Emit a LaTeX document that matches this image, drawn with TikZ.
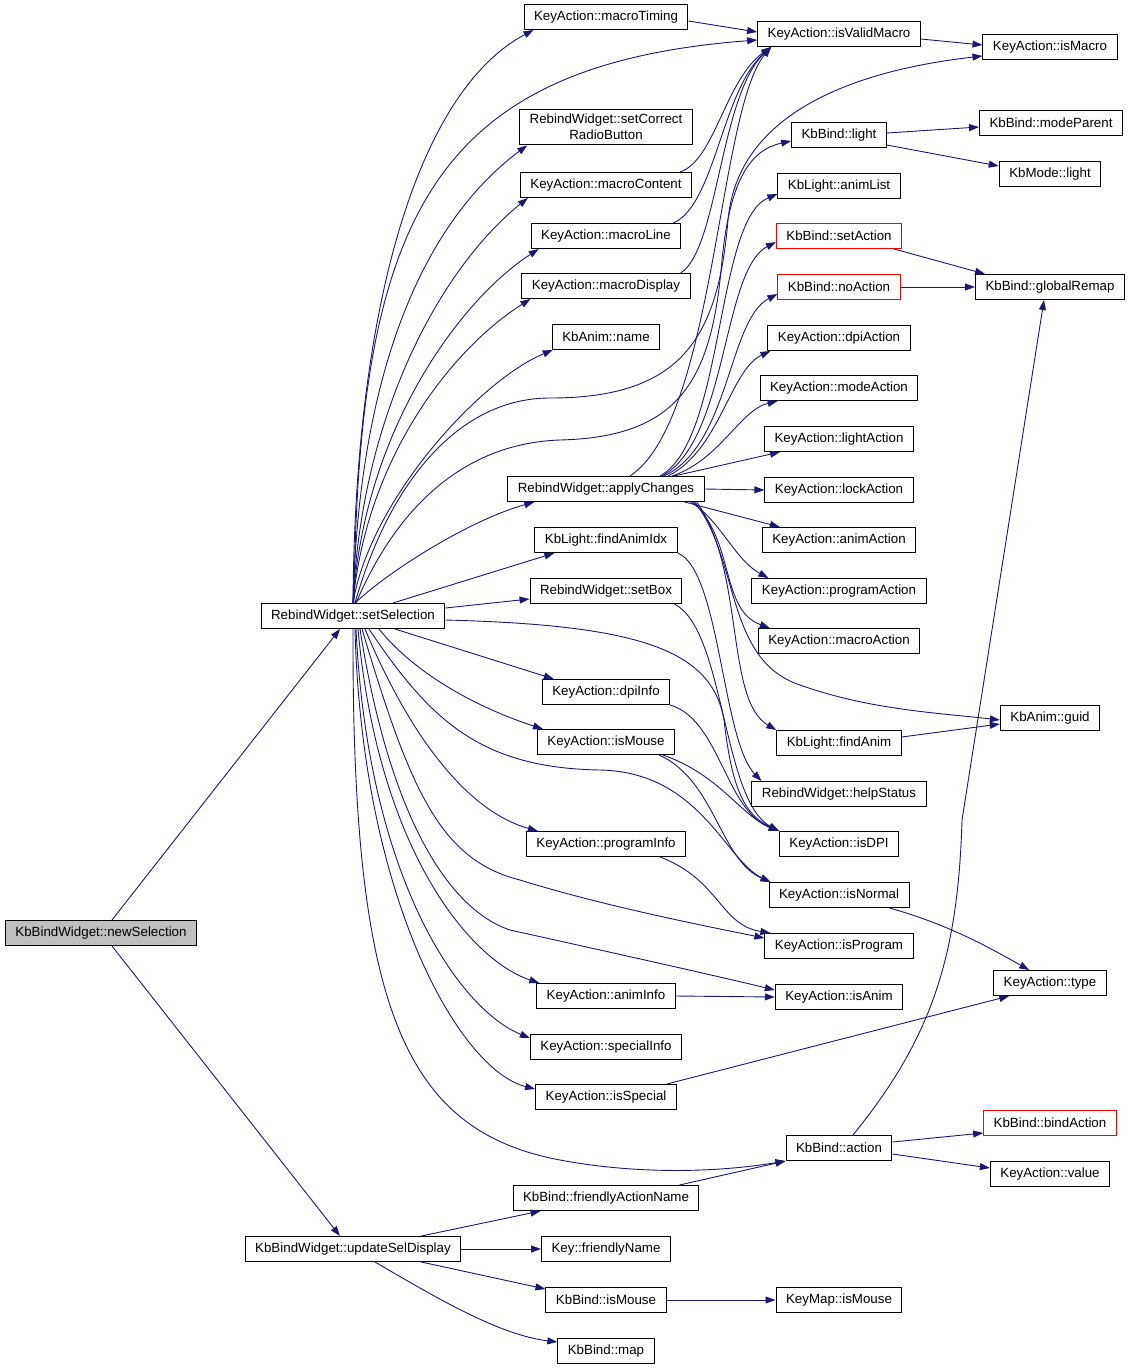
\documentclass[tikz,border=0pt]{standalone}
\usepackage{fontspec}
\setmainfont{Liberation Sans}
\usetikzlibrary{arrows.meta}
\definecolor{edgeblue}{RGB}{25,25,112}
\begin{document}
\begin{tikzpicture}[x=1pt,y=-1pt,line join=round,
	font=\fontsize{13.33}{16}\selectfont,
	fn/.style={draw=black,line width=1pt,rectangle,fill=white,minimum height=25pt,inner xsep=10pt,inner ysep=5pt,align=center},
	hot/.style={fn,draw=red},
	call/.style={draw=edgeblue,line width=0.9pt,-{Triangle[length=10pt,width=7pt]},edgeblue}]
	\useasboundingbox (0,0) rectangle (1131,1371);
	
	% left columns
	\node[fn,fill=black!25] (nsel) at (101,933) {KbBindWidget::newSelection};
	\node[fn] (ssel) at (353,616) {RebindWidget::setSelection};
	\node[fn] (usd) at (353,1249) {KbBindWidget::updateSelDisplay};
	
	\node[fn] (mtim) at (606,17) {KeyAction::macroTiming};
	\node[fn] (scrb) at (606,127) {RebindWidget::setCorrect\\RadioButton};
	\node[fn] (mcon) at (606,185) {KeyAction::macroContent};
	\node[fn] (mlin) at (606,236) {KeyAction::macroLine};
	\node[fn] (mdis) at (606,286) {KeyAction::macroDisplay};
	\node[fn] (aname) at (606,337) {KbAnim::name};
	\node[fn] (apch) at (606,489) {RebindWidget::applyChanges};
	\node[fn] (fai) at (606,540) {KbLight::findAnimIdx};
	\node[fn] (sbox) at (606,591) {RebindWidget::setBox};
	\node[fn] (dinf) at (606,692) {KeyAction::dpiInfo};
	\node[fn] (kmou) at (606,742) {KeyAction::isMouse};
	\node[fn] (pinf) at (606,844) {KeyAction::programInfo};
	\node[fn] (ainf) at (606,996) {KeyAction::animInfo};
	\node[fn] (sinf) at (606,1047) {KeyAction::specialInfo};
	\node[fn] (ispc) at (606,1097) {KeyAction::isSpecial};
	\node[fn] (fan) at (606,1198) {KbBind::friendlyActionName};
	\node[fn] (kfn) at (606,1249) {Key::friendlyName};
	\node[fn] (bmou) at (606,1300) {KbBind::isMouse};
	\node[fn] (bmap) at (606,1351) {KbBind::map};
	
	% third column
	\node[fn] (ivm) at (839,34) {KeyAction::isValidMacro};
	\node[fn] (blig) at (839,135) {KbBind::light};
	\node[fn] (alist) at (839,186) {KbLight::animList};
	\node[hot] (sact) at (839,236) {KbBind::setAction};
	\node[hot] (nact) at (839,287) {KbBind::noAction};
	\node[fn] (dact) at (839,338) {KeyAction::dpiAction};
	\node[fn] (mact) at (839,388) {KeyAction::modeAction};
	\node[fn] (lact) at (839,439) {KeyAction::lightAction};
	\node[fn] (lkact) at (839,490) {KeyAction::lockAction};
	\node[fn] (aact) at (839,540) {KeyAction::animAction};
	\node[fn] (pact) at (839,591) {KeyAction::programAction};
	\node[fn] (macact) at (839,641) {KeyAction::macroAction};
	\node[fn] (fanim) at (839,743) {KbLight::findAnim};
	\node[fn] (hst) at (839,794) {RebindWidget::helpStatus};
	\node[fn] (isdpi) at (839,844) {KeyAction::isDPI};
	\node[fn] (isnor) at (839,895) {KeyAction::isNormal};
	\node[fn] (isprg) at (839,946) {KeyAction::isProgram};
	\node[fn] (isanm) at (839,997) {KeyAction::isAnim};
	\node[fn] (bact) at (839,1148) {KbBind::action};
	\node[fn] (mapmou) at (839,1300) {KeyMap::isMouse};
	
	% right column
	\node[fn] (ismac) at (1050,47) {KeyAction::isMacro};
	\node[fn] (mpar) at (1051,123) {KbBind::modeParent};
	\node[fn] (mlight) at (1050,174) {KbMode::light};
	\node[fn] (grem) at (1050,287) {KbBind::globalRemap};
	\node[fn] (guid) at (1050,718) {KbAnim::guid};
	\node[fn] (atype) at (1050,983) {KeyAction::type};
	\node[hot] (bind) at (1050,1123) {KbBind::bindAction};
	\node[fn] (aval) at (1050,1174) {KeyAction::value};
	
	\draw[call] ([xshift=11pt]nsel.north) -- ([xshift=-13pt]ssel.south);
	\draw[call] ([xshift=11pt]nsel.south) -- ([xshift=-13pt]usd.north);
	
	% setSelection, upwards
	\draw[call] (ssel.north) .. controls (355,300) and (420,90) .. ([xshift=10pt]mtim.south west);
	\draw[call] ([xshift=1pt]ssel.north) .. controls (358,220) and (430,65) .. ([yshift=-6pt]ivm.west);
	\draw[call] (ssel.north) .. controls (360,340) and (440,210) .. ([xshift=8pt]scrb.south west);
	\draw[call] (ssel.north) .. controls (362,400) and (450,260) .. ([xshift=8pt]mcon.south west);
	\draw[call] (ssel.north) .. controls (364,430) and (460,300) .. ([xshift=8pt]mlin.south west);
	\draw[call] (ssel.north) .. controls (366,460) and (450,350) .. ([xshift=9pt]mdis.south west);
	\draw[call] (ssel.north) .. controls (370,500) and (480,380) .. ([xshift=1pt]aname.south west);
	\draw[call] ([xshift=2pt]ssel.north) .. controls (390,480) and (460,398) .. (550,398)
		.. controls (680,398) and (718,340) .. (728,220) .. controls (738,110) and (860,70) .. ([yshift=-9pt]ismac.west);
	\draw[call] ([xshift=3pt]ssel.north) .. controls (400,500) and (470,443) .. (560,440)
		.. controls (680,437) and (712,380) .. (722,260) .. controls (730,180) and (750,150) .. ([yshift=-6pt]blig.west);
	\draw[call] ([xshift=2pt]ssel.north) .. controls (390,570) and (470,520) .. ([xshift=27pt]apch.south west);
	\draw[call] ([xshift=40pt]ssel.north) -- ([xshift=20pt]fai.south west);
	\draw[call] ([yshift=8pt]ssel.east) -- ([yshift=-8pt]sbox.west);
	
	% setSelection, downwards
	\draw[call] ([yshift=-4pt]ssel.east) .. controls (640,625) and (712,650) .. (724,720)
		.. controls (732,790) and (745,815) .. (isdpi.north west);
	\draw[call] ([xshift=42pt]ssel.south) -- ([xshift=12pt]dinf.north west);
	\draw[call] ([xshift=26pt]ssel.south) .. controls (420,680) and (490,712) .. ([xshift=6pt]kmou.north west);
	\draw[call] ([xshift=16pt]ssel.south) .. controls (430,720) and (480,768) .. (600,770)
		.. controls (700,772) and (725,860) .. ([xshift=2pt]isnor.north west);
	\draw[call] ([xshift=12pt]ssel.south) .. controls (420,760) and (480,815) .. ([xshift=12pt]pinf.north west);
	\draw[call] ([xshift=9pt]ssel.south) .. controls (410,790) and (440,860) .. (520,880)
		.. controls (600,905) and (700,925) .. ([yshift=8pt]isprg.west);
	\draw[call] ([xshift=7pt]ssel.south) .. controls (390,820) and (450,910) .. (510,930)
		.. controls (600,950) and (700,972) .. ([yshift=7pt]isanm.west);
	\draw[call] ([xshift=5pt]ssel.south) .. controls (378,850) and (470,960) .. ([xshift=3pt]ainf.north west);
	\draw[call] ([xshift=3pt]ssel.south) .. controls (368,880) and (460,1010) .. ([yshift=-4pt]sinf.north west);
	\draw[call] ([xshift=2pt]ssel.south) .. controls (362,900) and (460,1070) .. ([yshift=-5pt]ispc.north west);
	\draw[call] (ssel.south) .. controls (352,1000) and (400,1130) .. (560,1160)
		.. controls (640,1175) and (720,1172) .. (bact.south west);
	
	% macro helpers
	\draw[call] ([yshift=-4pt]mtim.east) -- ([yshift=2pt]ivm.west);
	\draw[call] ([xshift=-12pt]mcon.north east) .. controls (715,160) and (725,80) .. ([xshift=14pt]ivm.south west);
	\draw[call] ([xshift=-8pt]mlin.north east) .. controls (715,205) and (722,90) .. ([xshift=14pt]ivm.south west);
	\draw[call] ([xshift=-10pt]mdis.north east) .. controls (718,250) and (720,95) .. ([xshift=14pt]ivm.south west);
	\draw[call] ([yshift=-5pt]ivm.east) -- ([yshift=2pt]ismac.west);
	
	% applyChanges
	\draw[call] ([xshift=24pt]apch.north) .. controls (715,420) and (718,110) .. ([xshift=14pt]ivm.south west);
	\draw[call] ([xshift=54pt]apch.north) .. controls (725,440) and (715,220) .. ([yshift=-8pt]alist.west);
	\draw[call] ([xshift=56pt]apch.north) .. controls (728,440) and (722,270) .. ([yshift=-6pt]sact.west);
	\draw[call] ([xshift=58pt]apch.north) .. controls (730,445) and (728,320) .. ([yshift=-7pt]nact.west);
	\draw[call] ([xshift=62pt]apch.north) .. controls (720,450) and (730,370) .. ([xshift=3pt]dact.south west);
	\draw[call] ([xshift=66pt]apch.north) .. controls (720,460) and (740,410) .. ([xshift=18pt]mact.south west);
	\draw[call] ([xshift=68pt]apch.north) -- ([xshift=16pt]lact.south west);
	\draw[call] (apch.east) -- (lkact.west);
	\draw[call] ([xshift=-20pt]apch.south east) -- ([xshift=18pt]aact.north west);
	\draw[call] ([xshift=-14pt]apch.south east) .. controls (720,520) and (735,560) .. ([xshift=17pt]pact.north west);
	\draw[call] ([xshift=-12pt]apch.south east) .. controls (735,540) and (720,610) .. ([xshift=12pt]macact.north west);
	\draw[call] ([xshift=-10pt]apch.south east) .. controls (740,560) and (725,660) .. (800,685)
		.. controls (870,710) and (940,713) .. ([yshift=-2pt]guid.west);
	\draw[call] ([xshift=-8pt]apch.south east) .. controls (745,570) and (725,700) .. (fanim.north west);
	
	% second level
	\draw[call] ([yshift=2pt]blig.east) -- ([yshift=-4pt]mpar.west);
	\draw[call] ([yshift=-10pt]blig.east) -- ([yshift=8pt]mlight.west);
	\draw[call] ([xshift=-8pt]sact.south east) -- ([xshift=10pt]grem.north west);
	\draw[call] (nact.east) -- (grem.west);
	\draw[call] (fai.south east) .. controls (720,570) and (722,740) .. ([xshift=10pt]hst.north west);
	\draw[call] ([xshift=-8pt]sbox.south east) .. controls (725,630) and (722,800) .. (isdpi.north west);
	\draw[call] (dinf.south east) .. controls (720,720) and (725,810) .. (isdpi.north west);
	\draw[call] ([xshift=-12pt]kmou.south east) .. controls (720,775) and (740,815) .. (isdpi.north west);
	\draw[call] ([xshift=-16pt]kmou.south east) .. controls (715,780) and (720,860) .. ([xshift=2pt]isnor.north west);
	\draw[call] ([xshift=-26pt]pinf.south east) .. controls (720,880) and (720,925) .. ([xshift=6pt]isprg.north west);
	\draw[call] (ainf.east) -- (isanm.west);
	\draw[call] ([xshift=-10pt]ispc.north east) -- ([xshift=16pt]atype.south west);
	\draw[call] ([xshift=-20pt]isnor.south east) .. controls (950,925) and (990,948) .. ([xshift=36pt]atype.north west);
	\draw[call] ([yshift=6pt]fanim.east) -- ([yshift=-6pt]guid.west);
	\draw[call] ([xshift=14pt]bact.north) .. controls (930,1040) and (958,960) .. (962,820) -- ([xshift=-6pt]grem.south);
	\draw[call] ([yshift=6pt]bact.east) -- ([yshift=-10pt]bind.west);
	\draw[call] ([yshift=-6pt]bact.east) -- ([yshift=6pt]aval.west);
	
	% updateSelDisplay
	\draw[call] ([xshift=-20pt]fan.north east) -- (bact.south west);
	\draw[call] ([xshift=-40pt]usd.north east) -- ([xshift=28pt]fan.south west);
	\draw[call] (usd.east) -- (kfn.west);
	\draw[call] ([xshift=-40pt]usd.south east) -- ([yshift=-2pt]bmou.north west);
	\draw[call] ([xshift=22pt]usd.south) .. controls (440,1300) and (500,1335) .. ([yshift=-4pt]bmap.north west);
	\draw[call] (bmou.east) -- (mapmou.west);
\end{tikzpicture}
\end{document}
